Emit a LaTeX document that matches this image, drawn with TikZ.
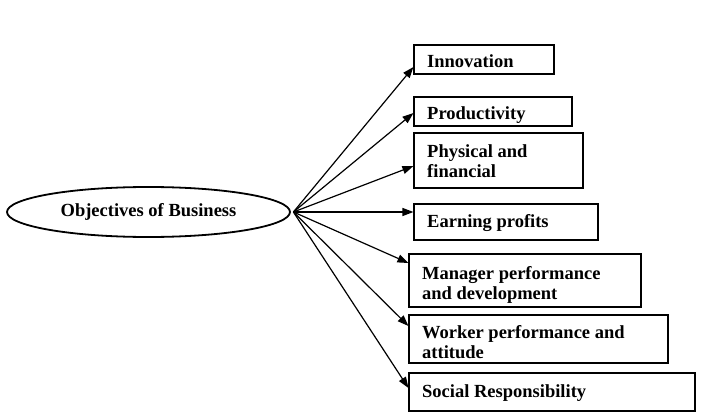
\documentclass[tikz,border=0pt]{standalone}
\usepackage{fontspec}
\setmainfont{Liberation Serif}
\usetikzlibrary{shapes.geometric,arrows.meta}

\begin{document}
\begin{tikzpicture}[x=1pt, y=-1pt,
        goal/.style={
        ellipse, draw=black, line width=1.8pt,
        inner sep=0pt, font=\fontsize{18.5}{20}\selectfont\bfseries},
        box/.style={
        rectangle, draw=black, line width=1.1pt,
        inner sep=0pt},
        txt/.style={
        anchor=base west, inner sep=0pt, align=left,
        font=\fontsize{18.5}{20}\selectfont\bfseries},
        arr/.style={-{Triangle[length=11pt,width=8pt]}, line width=1.2pt},
        ]

        \useasboundingbox (0,0) rectangle (705,420);

        \node (obj) [goal, minimum width=283pt, minimum height=50pt] at (148.5,212){Objectives of Business};
        \coordinate (hub) at ([xshift=2.5pt]obj.east);

        % boxes
        \node (inno) [box, minimum width=140pt, minimum height=29pt] at (484,59.5){};
        \node (prod) [box, minimum width=158pt, minimum height=29pt] at (493,111.5){};
        \node (phys) [box, minimum width=169pt, minimum height=55pt] at (498.5,160.5){};
        \node (earn) [box, minimum width=184pt, minimum height=36pt] at (506,222){};
        \node (mgr) [box, minimum width=232pt, minimum height=53pt] at (525,280.5){};
        \node (wrk) [box, minimum width=259pt, minimum height=48pt] at (538.5,339){};
        \node (soc) [box, minimum width=286pt, minimum height=38pt] at (552,392){};

        % texts (base = last line)
        \node (innot) [txt] at (427,68){Innovation};
        \node (prodt) [txt] at (427,120){Productivity};
        \node (physt) [txt] at (427,177){Physical and\\financial};
        \node (earnt) [txt] at (427,227){Earning profits};
        \node (mgrt) [txt] at (422,299){Manager performance\\and development};
        \node (wrkt) [txt] at (422,358){Worker performance and\\attitude};
        \node (soct) [txt] at (422,397){Social Responsibility};

        \draw[arr] (hub) -- ([yshift=-7.5pt]inno.west);
        \draw[arr] (hub) -- ([yshift=-1.5pt]prod.west);
        \draw[arr] (hub) -- ([yshift=-5.5pt]phys.west);
        \draw[arr] (hub) -- ([yshift=10pt]earn.west);
        \draw[arr] (hub) -- ([yshift=17.5pt]mgr.west);
        \draw[arr] (hub) -- ([yshift=13pt]wrk.west);
        \draw[arr] (hub) -- ([yshift=4pt]soc.west);
\end{tikzpicture}
\end{document}
